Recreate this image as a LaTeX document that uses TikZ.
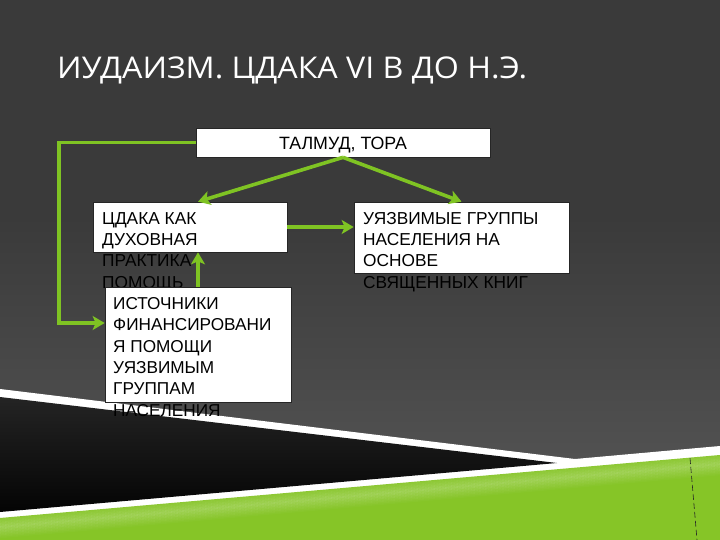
\documentclass[tikz,border=0pt]{standalone}
\usepackage{graphicx}
\usepackage{fontspec}
\setmainfont{Liberation Sans}
\newfontfamily\titlefont{Open Sans}
\usetikzlibrary{arrows.meta,calc}
\definecolor{arrgreen}{HTML}{7FC323}
\definecolor{bglow}{HTML}{747474}
\definecolor{bgmid}{HTML}{626262}
\definecolor{bgtop}{HTML}{3A3A3A}
\definecolor{grn}{HTML}{86C527}
\definecolor{wedgetop}{HTML}{242424}
\definecolor{wedgebot}{HTML}{040404}
\pgfdeclareverticalshading{bgshade}{100bp}{color(0bp)=(bglow); color(16bp)=(bgmid); color(55bp)=(bgtop); color(100bp)=(bgtop)}
\tikzset{
  whitebox/.style={draw=black!85, line width=0.7pt, fill=white, inner sep=0pt},
  boxtext/.style={font=\fontsize{17.3}{21.3}\selectfont, align=left, inner sep=0pt, text=black},
  conn/.style={draw=arrgreen, line width=3.6pt, -{Stealth[length=12pt,width=14pt,inset=3pt]}}
}
\begin{document}
\begin{tikzpicture}[x=1pt,y=-1pt]
\useasboundingbox (0,0) rectangle (720,540);
% background
\shade[shading=bgshade] (0,0) rectangle (720,540);
% bottom decoration
\fill[white] (0,389) -- (575,459) -- (720,446) -- (720,540) -- (0,540) -- cycle;
\shade[top color=wedgetop, bottom color=wedgebot] (0,397) -- (557,463) -- (0,512) -- cycle;
\fill[grn] (0,518) -- (720,455) -- (720,540) -- (0,540) -- cycle;
\begin{scope}
\clip (0,518) -- (720,455) -- (720,540) -- (0,540) -- cycle;
\foreach \d in {0,1.5,...,30}{
  \pgfmathsetmacro{\op}{max(0,0.2*(1-abs(\d-9)/12))}
  \draw[white, opacity=\op, line width=1.6pt] (0,518+\d) -- (720,455+\d);
}
\end{scope}
\draw[black!85, line width=0.6pt, dash pattern=on 6pt off 3pt] (690,458) -- (697,540);
% title
\node[anchor=base west, inner sep=0pt, text=white] (title) at (57,78.3)
  {\resizebox{470pt}{21.7pt}{\titlefont ИУДАИЗМ. ЦДАКА VI В ДО Н.Э.}};
% boxes
\node[whitebox, minimum width=294pt, minimum height=29pt] (talmud) at (343,142.5) {};
\node[anchor=base, inner sep=0pt, font=\fontsize{17.8}{21}\selectfont] (talmudtext) at (343,150) {ТАЛМУД, ТОРА};
\node[whitebox, minimum width=194pt, minimum height=50pt] (tsdaka) at (190,227) {};
\node[boxtext, anchor=north west] (tsdakatext) at (102,212) {ЦДАКА КАК\\ДУХОВНАЯ\\ПРАКТИКА\\ПОМОЩЬ};
\node[whitebox, minimum width=215pt, minimum height=71pt] (groups) at (461.5,237.5) {};
\node[boxtext, anchor=north west] (groupstext) at (363,212) {УЯЗВИМЫЕ ГРУППЫ\\НАСЕЛЕНИЯ НА\\ОСНОВЕ\\СВЯЩЕННЫХ КНИГ};
\node[whitebox, minimum width=186pt, minimum height=115pt] (sources) at (198,344.5) {};
\node[boxtext, anchor=north west, font=\fontsize{17.2}{21.4}\selectfont] (sourcestext) at (113,297) {ИСТОЧНИКИ\\ФИНАНСИРОВАНИ\\Я ПОМОЩИ\\УЯЗВИМЫМ\\ГРУППАМ\\НАСЕЛЕНИЯ};
% connectors
\coordinate (loop) at (59,323);
\draw[conn] (talmud.south) -- ([xshift=8pt]tsdaka.north);
\draw[conn] (talmud.south) -- (groups.north);
\draw[conn] (tsdaka.east) -- (tsdaka.east -| groups.west);
\draw[conn] (sources.north) -- (sources.north |- tsdaka.south);
\draw[conn] (talmud.west) -| (loop) -- (loop -| sources.west);
\end{tikzpicture}
\end{document}
